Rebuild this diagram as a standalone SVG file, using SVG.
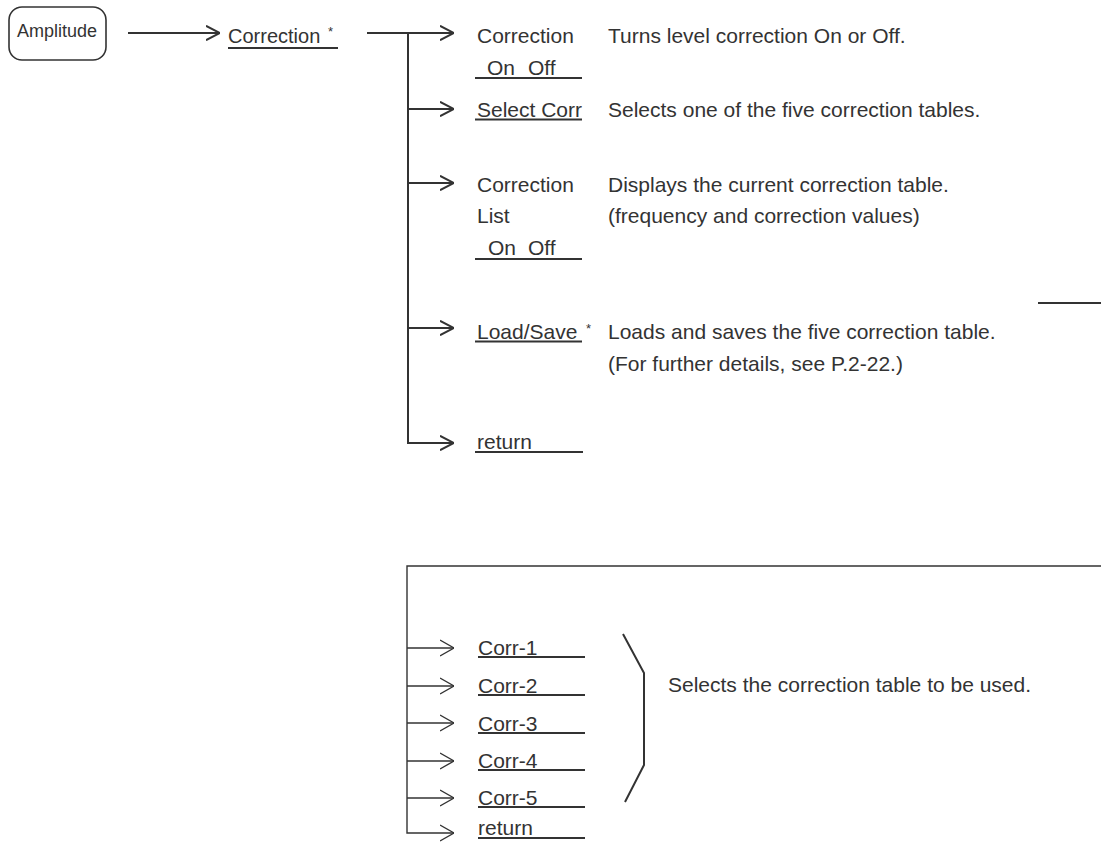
<svg xmlns="http://www.w3.org/2000/svg" width="1101" height="850" viewBox="0 0 1101 850">
<style>
text{font-family:"Liberation Sans",Arial,sans-serif;font-size:21px;fill:#333}
.ul{stroke:#333;stroke-width:2}
.c{fill:none;stroke:#333;stroke-width:2}
.t{fill:none;stroke:#333;stroke-width:1.4}
.box{fill:none;stroke:#333;stroke-width:1.6}
</style>
<defs>
<marker id="ah" viewBox="0 0 14 16" refX="14" refY="8" markerWidth="14" markerHeight="16" markerUnits="userSpaceOnUse" orient="auto">
<path d="M0,0.8 L14,8 L0,15.2" fill="none" stroke="#333" stroke-width="2"/>
</marker>
<marker id="ah2" viewBox="0 0 14 18" refX="14" refY="9" markerWidth="14" markerHeight="18" markerUnits="userSpaceOnUse" orient="auto">
<path d="M0,1 L14,9 L0,17" fill="none" stroke="#333" stroke-width="1.4"/>
</marker>
</defs>
<rect width="1101" height="850" fill="#fff"/>
<g id="connectors">
<line class="c" x1="128" y1="33" x2="220" y2="33" marker-end="url(#ah)"/>
<line class="c" x1="367" y1="33" x2="454" y2="33" marker-end="url(#ah)"/>
<path class="c" d="M408,33 V443 H454" marker-end="url(#ah)"/>
<line class="c" x1="408" y1="109" x2="454" y2="109" marker-end="url(#ah)"/>
<line class="c" x1="408" y1="183" x2="454" y2="183" marker-end="url(#ah)"/>
<line class="c" x1="408" y1="328" x2="454" y2="328" marker-end="url(#ah)"/>
<line class="c" x1="1038" y1="303" x2="1101" y2="303"/>
<path class="t" d="M1101,566 H407 V833 H454" marker-end="url(#ah2)"/>
<line class="t" x1="407" y1="648" x2="454" y2="648" marker-end="url(#ah2)"/>
<line class="t" x1="407" y1="686" x2="454" y2="686" marker-end="url(#ah2)"/>
<line class="t" x1="407" y1="723" x2="454" y2="723" marker-end="url(#ah2)"/>
<line class="t" x1="407" y1="761" x2="454" y2="761" marker-end="url(#ah2)"/>
<line class="t" x1="407" y1="798" x2="454" y2="798" marker-end="url(#ah2)"/>
</g>
<g id="amplitude">
<rect class="box" x="9" y="7" width="97" height="53" rx="13"/>
<text x="17" y="37" style="font-size:18px">Amplitude</text>
</g>
<g id="correction-menu">
<text x="228" y="43" style="font-size:20px">Correction</text>
<text x="328" y="36" style="font-size:13px">*</text>
<line class="ul" x1="228" y1="48" x2="338" y2="48"/>
</g>
<g id="correction-onoff">
<text x="477" y="43">Correction</text>
<text x="487" y="75">On</text>
<text x="528" y="75">Off</text>
<line class="ul" x1="475" y1="78" x2="582" y2="78"/>
<text x="608" y="43">Turns level correction On or Off.</text>
</g>
<g id="select-corr">
<text x="477" y="117">Select Corr</text>
<line class="ul" x1="475" y1="119.5" x2="582" y2="119.5"/>
<text x="608" y="117">Selects one of the five correction tables.</text>
</g>
<g id="correction-list">
<text x="477" y="192">Correction</text>
<text x="477" y="223">List</text>
<text x="488" y="255">On</text>
<text x="528" y="255">Off</text>
<line class="ul" x1="475" y1="259" x2="582" y2="259"/>
<text x="608" y="192">Displays the current correction table.</text>
<text x="608" y="223">(frequency and correction values)</text>
</g>
<g id="load-save">
<text x="477" y="339">Load/Save</text>
<text x="586" y="333" style="font-size:13px">*</text>
<line class="ul" x1="475" y1="341.5" x2="582" y2="341.5"/>
<text x="608" y="339">Loads and saves the five correction table.</text>
<text x="608" y="371">(For further details, see P.2-22.)</text>
</g>
<g id="return-top">
<text x="477" y="449">return</text>
<line class="ul" x1="475" y1="452" x2="583" y2="452"/>
</g>
<g id="corr-1">
<text x="478" y="655">Corr-1</text>
<line class="ul" x1="478" y1="657" x2="585" y2="657"/>
</g>
<g id="corr-2">
<text x="478" y="693">Corr-2</text>
<line class="ul" x1="478" y1="695" x2="585" y2="695"/>
</g>
<g id="corr-3">
<text x="478" y="731">Corr-3</text>
<line class="ul" x1="478" y1="733" x2="585" y2="733"/>
</g>
<g id="corr-4">
<text x="478" y="768">Corr-4</text>
<line class="ul" x1="478" y1="770" x2="585" y2="770"/>
</g>
<g id="corr-5">
<text x="478" y="805">Corr-5</text>
<line class="ul" x1="478" y1="807" x2="585" y2="807"/>
</g>
<g id="return-bottom">
<text x="478" y="835">return</text>
<line class="ul" x1="478" y1="838" x2="585" y2="838"/>
</g>
<g id="bracket">
<polyline class="c" points="623,634 644,673 644,765 625,802"/>
<text x="668" y="692">Selects the correction table to be used.</text>
</g>
</svg>
